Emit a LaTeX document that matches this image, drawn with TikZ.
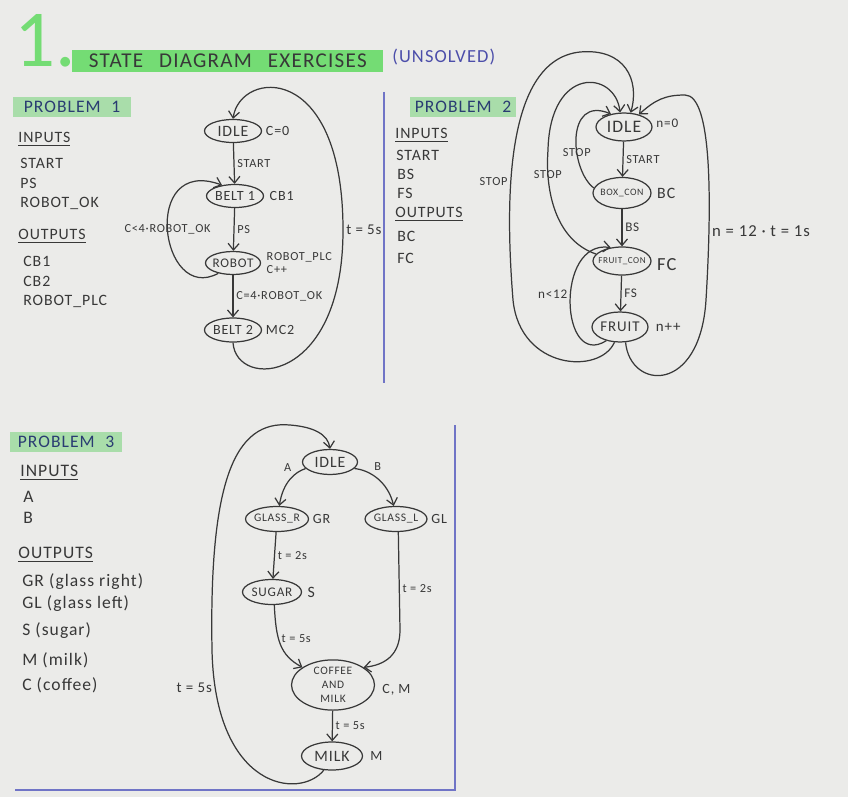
\documentclass[tikz,border=0pt]{standalone}
\usepackage{fontspec}
\setmainfont{Carlito}
\newfontfamily\handfont[LetterSpace=6]{Carlito}
\usepackage{tikz}
\usetikzlibrary{arrows.meta,positioning,shapes.geometric}
\definecolor{PaperGrey}{HTML}{EBEBE9}
\definecolor{Ink}{HTML}{383838}
\definecolor{MarkerGreen}{HTML}{74DC74}
\definecolor{SoftGreen}{HTML}{A9DDAA}
\definecolor{NavyInk}{HTML}{2A3C72}
\definecolor{PenBlue}{HTML}{4C4EAA}
\definecolor{RuleBlue}{HTML}{7074C6}
\newcommand{\fs}[1]{\fontsize{#1}{#1}\selectfont}

\begin{document}
\begin{tikzpicture}[
  x=0.02cm,y=-0.02cm,
  font=\handfont\fs{9},
  statebox/.style={ellipse,draw=Ink,line width=0.7pt,text=Ink,
    inner xsep=-4pt,inner ysep=0pt,font=\handfont\fs{8}},
  outlbl/.style={text=Ink,inner sep=0pt,font=\handfont\fs{8}},
  cond/.style={text=Ink,inner sep=1.5pt,font=\handfont\fs{7}},
  flow/.style={-{Straight Barb[length=1.3mm,width=2.2mm]},draw=Ink,
    line width=0.7pt},
  problem/.style={fill=SoftGreen,text=NavyInk,font=\handfont\fs{10},
    minimum height=0.4cm,inner sep=0pt},
  item/.style={anchor=west,text=Ink,inner sep=0pt},
  bigitem/.style={item,font=\handfont\fs{10}},
  divider/.style={draw=RuleBlue,line width=0.9pt}
]
  \fill[PaperGrey] (0,0) rectangle (848,797);
  \useasboundingbox (0,0) rectangle (848,797);

  % heading
  \node[text=MarkerGreen,font=\fs{46},anchor=base west,inner sep=0pt] (num)
    at (14,67) {1.};
  \node[fill=MarkerGreen,text=Ink,font=\handfont\fs{12},anchor=west,
    minimum width=6.22cm,minimum height=0.44cm,inner sep=0pt] (title)
    at (72,61) {STATE\hspace{9pt}DIAGRAM\hspace{9pt}EXERCISES};
  \node[text=PenBlue,font=\handfont\fs{10.5},anchor=west,inner sep=0pt]
    (unsolved) at (392,57) {(UNSOLVED)};

  %% problem 1
  \node[problem,minimum width=2.38cm] (prob1) at (72,107)
    {PROBLEM\hspace{6pt}1};
  \node[item] (p1in) at (18,139) {\underline{INPUTS}};
  \node[item] (p1start) at (20,163) {START};
  \node[item] (p1ps) at (20,183) {PS};
  \node[item] (p1ok) at (20,203) {ROBOT\_OK};
  \node[item] (p1out) at (18,236) {\underline{OUTPUTS}};
  \node[item] (p1cb1) at (23,261) {CB1};
  \node[item] (p1cb2) at (23,281) {CB2};
  \node[item] (p1plc) at (23,301) {ROBOT\_PLC};

  \node[statebox,minimum width=1.14cm,minimum height=0.46cm,
    font=\handfont\fs{9}] (idleA) at (233,131) {IDLE};
  \node[statebox,minimum width=1.14cm,minimum height=0.46cm] (beltA)
    at (235,196) {BELT 1};
  \node[statebox,minimum width=1.10cm,minimum height=0.46cm,
    font=\handfont\fs{7.5}] (robotA) at (233,263) {ROBOT};
  \node[statebox,minimum width=1.14cm,minimum height=0.48cm] (beltB)
    at (233,330) {BELT 2};
  \node[outlbl,right=2pt of idleA] (idleAout) {C=0};
  \node[outlbl,right=3pt of beltA] (beltAout) {CB1};
  \node[outlbl,right=3pt of robotA,align=left,
    font=\handfont\fontsize{7}{7.5}\selectfont] (robotAout) {ROBOT\_PLC\\C++};
  \node[outlbl,right=2pt of beltB] (beltBout) {MC2};

  \draw[flow] (idleA) -- node[cond,right]{START} (beltA);
  \draw[flow] (beltA) -- node[cond,right]{PS} (robotA);
  \draw[flow] (robotA) -- node[cond,right]{C=4·ROBOT\_OK} (beltB);
  \draw[flow] (robotA.215) .. controls (160,305) and (140,155) ..
    node[cond,pos=0.5]{C<4·ROBOT\_OK} (beltA.140);
  \draw[flow] (beltB.south) .. controls (236,390) and (343,385) .. (343,230)
    node[cond,right,font=\handfont\fs{8.5}]{t = 5s}
    .. controls (343,60) and (240,70) .. (idleA.north);
  \draw[divider] (384,92) -- (384,383);

  %% problem 2
  \node[problem,minimum width=2.14cm] (prob2) at (463,107)
    {PROBLEM\hspace{6pt}2};
  \node[item] (p2in) at (395,135) {\underline{INPUTS}};
  \node[item] (p2start) at (396,155) {START};
  \node[item] (p2bs) at (397,174) {BS};
  \node[item] (p2fs) at (397,193) {FS};
  \node[item] (p2out) at (395,214) {\underline{OUTPUTS}};
  \node[item] (p2bc) at (397,236) {BC};
  \node[item] (p2fc) at (397,258) {FC};

  \node[statebox,minimum width=1.12cm,minimum height=0.56cm,
    font=\handfont\fs{10}] (idleB) at (624,127) {IDLE};
  \node[statebox,minimum width=1.16cm,minimum height=0.62cm,
    font=\handfont\fs{5.6}] (boxcon) at (622,193) {BOX\_CON};
  \node[statebox,minimum width=1.16cm,minimum height=0.56cm,
    font=\handfont\fs{5.2}] (fruitcon) at (622,261) {FRUIT\_CON};
  \node[statebox,minimum width=1.12cm,minimum height=0.60cm,
    font=\handfont\fs{8.5}] (fruit) at (620,327) {FRUIT};
  \node[outlbl,right=2pt of idleB,yshift=2pt,font=\handfont\fs{7.5}]
    (idleBout) {n=0};
  \node[outlbl,right=3pt of boxcon,font=\handfont\fs{9}] (boxconout) {BC};
  \node[outlbl,right=3pt of fruitcon,yshift=-2pt,font=\handfont\fs{10.5}]
    (fruitconout) {FC};
  \node[outlbl,right=4pt of fruit,font=\handfont\fs{8.5}] (fruitout) {n++};

  \draw[flow] (idleB) -- node[cond,right]{START} (boxcon);
  \draw[flow] (boxcon) -- node[cond,right,font=\handfont\fs{7.5}]{BS}
    (fruitcon);
  \draw[flow] (fruitcon) -- node[cond,right,font=\handfont\fs{7.5}]{FS}
    (fruit);
  \draw[flow] (fruit.225) .. controls (560,370) and (555,240) ..
    node[cond,left,pos=0.55,font=\handfont\fs{7.5}]{n<12} (fruitcon.130);
  \draw[flow] (boxcon.170) .. controls (570,170) and (565,95) ..
    node[cond,pos=0.37]{STOP} (idleB.135);
  \draw[flow] (fruitcon.165) .. controls (555,240) and (545,190) ..
    node[cond,pos=0.8]{STOP} (548,150)
    .. controls (550,65) and (615,70) .. (idleB.105);
  \draw[flow] (fruit.250) .. controls (600,375) and (520,370) .. (513,300)
    .. controls (505,200) and (505,60) ..
    node[cond,left,pos=0.37]{STOP} (580,52)
    .. controls (625,48) and (640,80) .. (idleB.65);
  \draw[flow] (fruit.290) .. controls (630,390) and (700,395) .. (706,300)
    .. controls (712,200) and (712,95) ..
    node[cond,right,pos=0.23,font=\handfont\fs{9.5}]{n = 12 · t = 1s}
    (685,95) .. controls (665,95) and (655,100) .. (idleB.40);

  %% problem 3
  \node[problem,minimum width=2.24cm] (prob3) at (66,442)
    {PROBLEM\hspace{6pt}3};
  \node[bigitem] (p3in) at (20,473) {\underline{INPUTS}};
  \node[bigitem] (p3a) at (23,497) {A};
  \node[bigitem] (p3b) at (23,518) {B};
  \node[bigitem] (p3out) at (18,555) {\underline{OUTPUTS}};
  \node[bigitem] (p3gr) at (22,582) {GR (glass right)};
  \node[bigitem] (p3gl) at (22,604) {GL (glass left)};
  \node[bigitem] (p3s) at (22,631) {S (sugar)};
  \node[bigitem] (p3m) at (22,660) {M (milk)};
  \node[bigitem] (p3c) at (22,685) {C (coffee)};

  \node[statebox,minimum width=1.10cm,minimum height=0.50cm,
    font=\handfont\fs{9}] (idleC) at (330,462) {IDLE};
  \node[statebox,minimum width=1.26cm,minimum height=0.50cm,
    font=\handfont\fs{6.6}] (glassR) at (277,519) {GLASS\_R};
  \node[statebox,minimum width=1.24cm,minimum height=0.50cm,
    font=\handfont\fs{6.6}] (glassL) at (396,519) {GLASS\_L};
  \node[statebox,minimum width=1.18cm,minimum height=0.50cm,
    font=\handfont\fs{7.5}] (sugar) at (272,592) {SUGAR};
  \node[statebox,minimum width=1.66cm,minimum height=1.0cm,align=center,
    font=\handfont\fontsize{6.5}{8}\selectfont] (coffee) at (333,685)
    {COFFEE\\AND\\MILK};
  \node[statebox,minimum width=1.22cm,minimum height=0.56cm,
    font=\handfont\fs{9}] (milk) at (332,756) {MILK};
  \node[outlbl,right=2pt of glassR] (glassRout) {GR};
  \node[outlbl,right=2pt of glassL] (glassLout) {GL};
  \node[outlbl,right=3pt of sugar,font=\handfont\fs{9}] (sugarout) {S};
  \node[outlbl,right=4pt of coffee,yshift=-3pt] (coffeeout) {C, M};
  \node[outlbl,right=4pt of milk] (milkout) {M};

  \draw[flow] (idleC.195) .. controls (295,472) and (283,482) ..
    node[cond,above left,pos=0.35]{A} (glassR.80);
  \draw[flow] (idleC.-15) .. controls (370,470) and (388,482) ..
    node[cond,above right,pos=0.35]{B} (glassL.100);
  \draw[flow] (glassR) -- node[cond,right]{t = 2s} (sugar);
  \draw[flow] (glassL.280) -- node[cond,right,pos=0.58]{t = 2s} (400,630)
    .. controls (400,655) and (385,665) .. (coffee.30);
  \draw[flow] (sugar.280) .. controls (276,640) and (280,655) ..
    node[cond,right,pos=0.4]{t = 5s} (coffee.150);
  \draw[flow] (coffee) -- node[cond,right]{t = 5s} (milk);
  \draw[flow] (milk.240) .. controls (300,800) and (215,790) ..
    node[cond,left,pos=0.9,font=\handfont\fs{8.5}]{t = 5s} (212,650)
    .. controls (209,480) and (235,420) .. (290,425)
    .. controls (315,427) and (328,435) .. (idleC.north);
  \draw[divider] (455,425) -- (455,790) -- (15,790);
\end{tikzpicture}
\end{document}
